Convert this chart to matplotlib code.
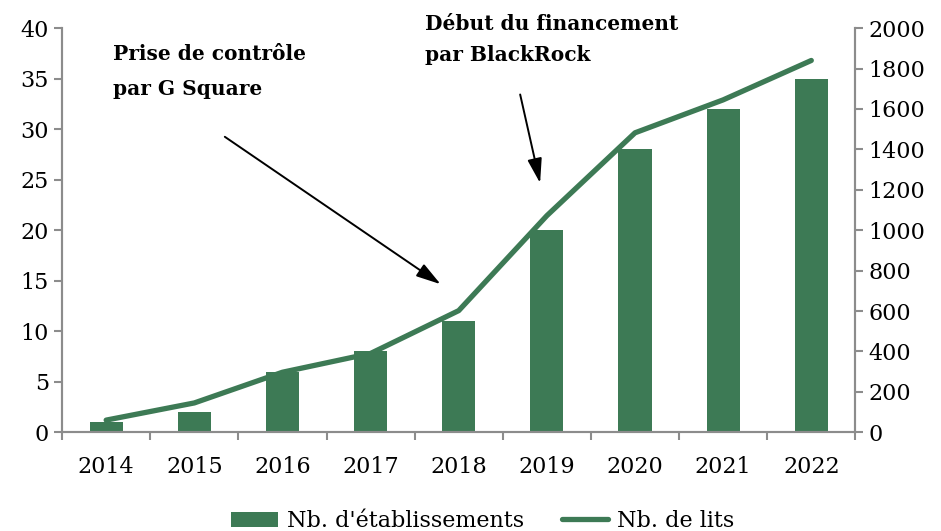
import matplotlib.pyplot as plt
import numpy as np

# données
annees = ["2014", "2015", "2016", "2017", "2018", "2019", "2020", "2021", "2022"]
etablissements = [1, 2, 6, 8, 11, 20, 28, 32, 35]
lits = [60, 145, 297, 390, 602, 1072, 1482, 1645, 1840]

vert = "#3d7a55"
gris = "#8c8c8c"
plt.rcParams["font.family"] = ["DejaVu Serif"]

fig, ax = plt.subplots(figsize=(9.41, 5.31), dpi=100)
fig.subplots_adjust(left=0.066, right=0.909, top=0.947, bottom=0.186)

x = np.arange(len(annees))
ax.bar(x, etablissements, width=0.375, color=vert, label="Nb. d'établissements")
ax.set_ylim(0, 40)
ax.set_yticks(range(0, 41, 5))
ax.set_xlim(-0.5, len(annees) - 0.5)
ax.set_xticks(x)
ax.set_xticklabels(annees)
ax.set_xticks(np.arange(-0.5, len(annees)), minor=True)
ax.tick_params(axis="x", which="major", length=0, pad=17, labelsize=16)
ax.tick_params(axis="x", which="minor", length=6, color=gris, width=1.5)
ax.tick_params(axis="y", length=6, color=gris, width=1.5, labelsize=16)

ax2 = ax.twinx()
ax2.plot(x, lits, color=vert, lw=3.8, solid_capstyle="round", label="Nb. de lits")
ax2.set_ylim(0, 2000)
ax2.set_yticks(range(0, 2001, 200))
ax2.tick_params(axis="y", length=6, color=gris, width=1.5, labelsize=16)

for a in (ax, ax2):
    a.spines["top"].set_visible(False)
    for s in ("left", "right", "bottom"):
        a.spines[s].set_color(gris)
        a.spines[s].set_linewidth(1.5)

# annotations
fleche = dict(arrowstyle="-|>,head_length=0.75,head_width=0.22", color="black", lw=1.4,
              mutation_scale=20)
ax.annotate("", xy=(3.82, 14.5), xytext=(1.32, 29.4), arrowprops=fleche)
ax.text(0.08, 38.4, "Prise de contrôle\npar G Square", fontsize=14.5, fontweight="bold",
        va="top", ha="left", linespacing=1.9)
ax.annotate("", xy=(4.93, 24.4), xytext=(4.69, 33.7), arrowprops=fleche,
            annotation_clip=False)
ax.text(3.62, 41.4, "Début du financement\npar BlackRock", fontsize=14.5, fontweight="bold",
        va="top", ha="left", linespacing=1.7, clip_on=False)

h1, l1 = ax.get_legend_handles_labels()
h2, l2 = ax2.get_legend_handles_labels()
fig.legend(h1 + h2, l1 + l2, loc="lower center", ncol=2, frameon=False, fontsize=16,
           bbox_to_anchor=(0.513, -0.04), handlelength=2.1, handletextpad=0.4, columnspacing=1.7)

fig.savefig("out.png", dpi=100)
